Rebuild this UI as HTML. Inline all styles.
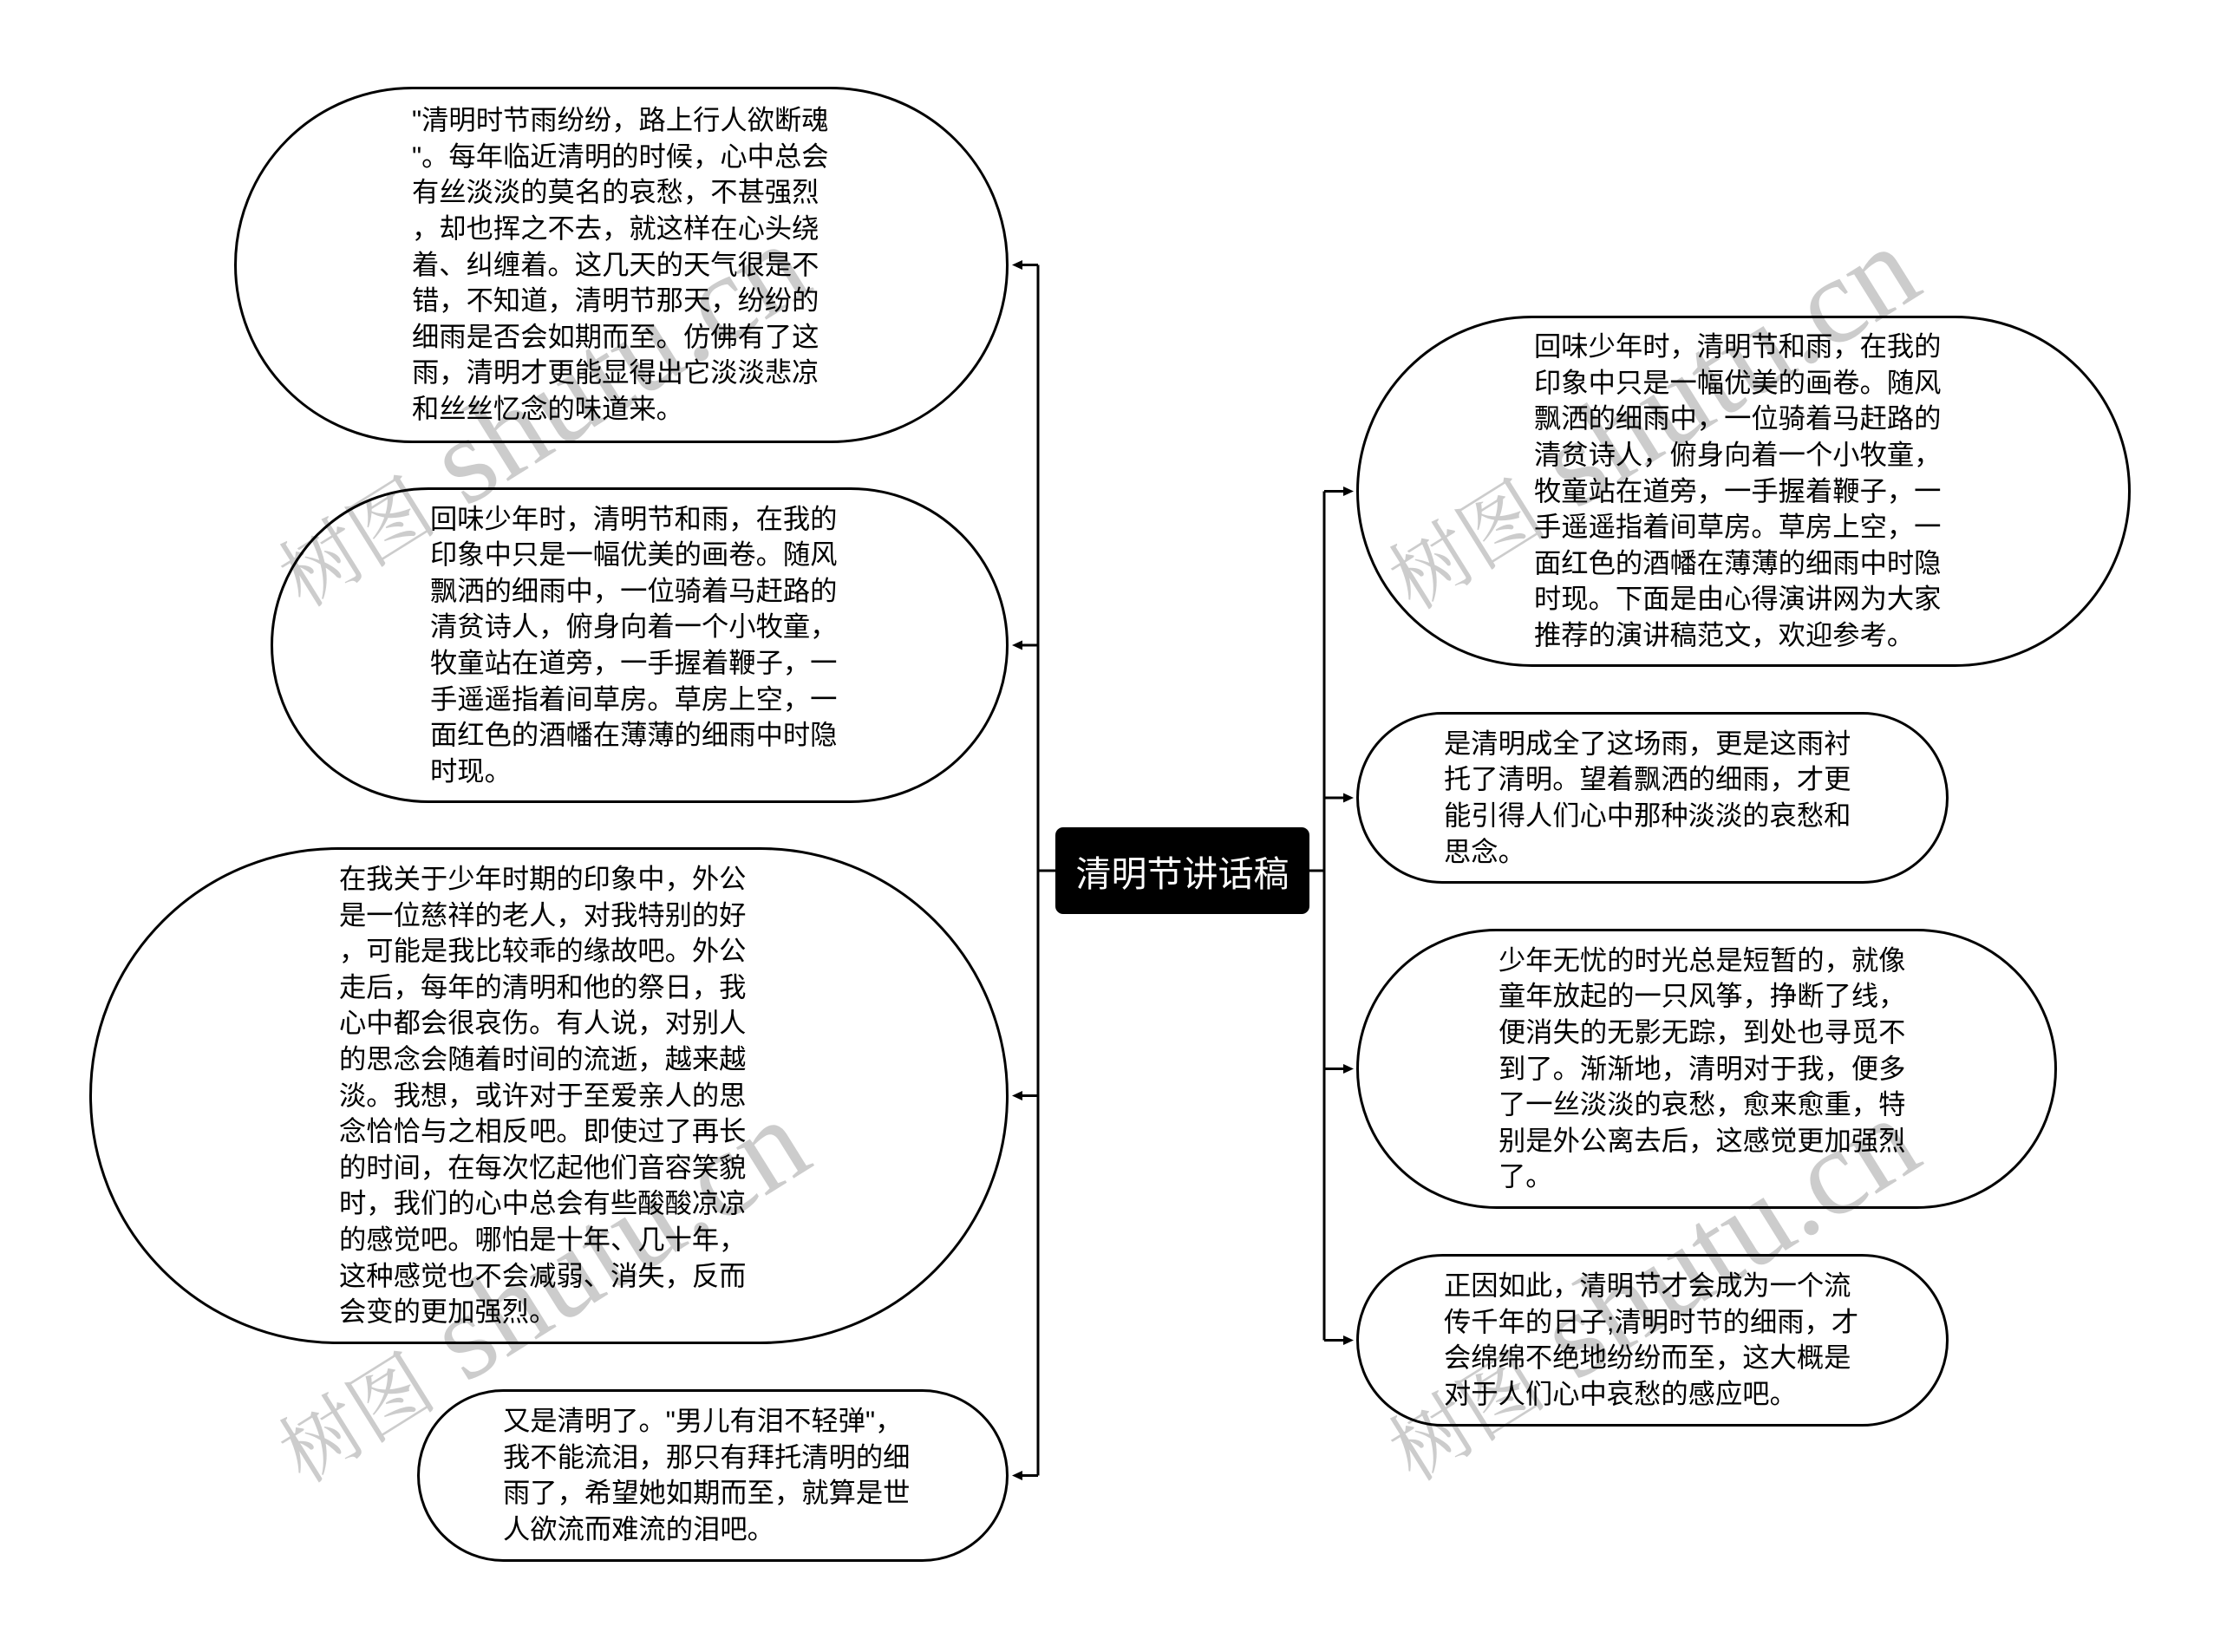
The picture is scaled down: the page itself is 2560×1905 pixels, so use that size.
<!DOCTYPE html>
<html>
<head>
<meta charset="utf-8">
<style>
  html, body { margin:0; padding:0; }
  body { width:2560px; height:1905px; position:relative; overflow:hidden; background:#fff; }
  .t { position:absolute; font-family:"Liberation Sans","Noto Sans CJK SC",sans-serif; font-size:31.3px; line-height:41.6px; color:#000; white-space:nowrap; }
  .center { position:absolute; left:1217px; top:954px; width:293px; height:100px; display:flex; align-items:center; justify-content:center; font-family:"Liberation Sans","Noto Sans CJK SC",sans-serif; font-size:41px; color:#fff; white-space:nowrap; }
  svg { position:absolute; left:0; top:0; }
</style>
</head>
<body>
<svg width="2560" height="1905" viewBox="0 0 2560 1905">
  <g stroke="#000" stroke-width="3" fill="none">
    <path d="M1197 305.5 V1701.5"/>
    <path d="M1197 305.5 H1177"/>
    <path d="M1197 744 H1177"/>
    <path d="M1197 1263.5 H1177"/>
    <path d="M1197 1701.5 H1177"/>
    <path d="M1197 1004 H1217"/>
    <path d="M1510 1004 H1527"/>
    <path d="M1527 566.5 V1545.5"/>
    <path d="M1527 566.5 H1551"/>
    <path d="M1527 920 H1551"/>
    <path d="M1527 1232.5 H1551"/>
    <path d="M1527 1545.5 H1551"/>
  </g>
  <g fill="#000">
    <polygon points="1167,305.5 1179,300 1179,311"/>
    <polygon points="1167,744 1179,738.5 1179,749.5"/>
    <polygon points="1167,1263.5 1179,1258 1179,1269"/>
    <polygon points="1167,1701.5 1179,1696 1179,1707"/>
    <polygon points="1561,566.5 1549,561 1549,572"/>
    <polygon points="1561,920 1549,914.5 1549,925.5"/>
    <polygon points="1561,1232.5 1549,1227 1549,1238"/>
    <polygon points="1561,1545.5 1549,1540 1549,1551"/>
  </g>
  <g fill="#fff" stroke="#000" stroke-width="3">
    <rect x="271.5" y="101.5" width="890" height="408" rx="204" ry="204"/>
    <rect x="313.5" y="563.5" width="848" height="361" rx="180.5" ry="180.5"/>
    <rect x="104.5" y="978.5" width="1057" height="570" rx="285" ry="285"/>
    <rect x="482.5" y="1603.5" width="679" height="196" rx="98" ry="98"/>
    <rect x="1565.5" y="365.5" width="890" height="402" rx="201" ry="201"/>
    <rect x="1565.5" y="822.5" width="680" height="195" rx="97.5" ry="97.5"/>
    <rect x="1565.5" y="1072.5" width="805" height="320" rx="160" ry="160"/>
    <rect x="1565.5" y="1447.5" width="680" height="196" rx="98" ry="98"/>
  </g>
  <rect x="1217" y="954" width="293" height="100" rx="9" ry="9" fill="#000"/>
</svg>

<div class="center">清明节讲话稿</div>

<div class="t" style="left:475px;top:118.3px;">"清明时节雨纷纷，路上行人欲断魂<br>"。每年临近清明的时候，心中总会<br>有丝淡淡的莫名的哀愁，不甚强烈<br>，却也挥之不去，就这样在心头绕<br>着、纠缠着。这几天的天气很是不<br>错，不知道，清明节那天，纷纷的<br>细雨是否会如期而至。仿佛有了这<br>雨，清明才更能显得出它淡淡悲凉<br>和丝丝忆念的味道来。</div>

<div class="t" style="left:496px;top:577.6px;">回味少年时，清明节和雨，在我的<br>印象中只是一幅优美的画卷。随风<br>飘洒的细雨中，一位骑着马赶路的<br>清贫诗人，俯身向着一个小牧童，<br>牧童站在道旁，一手握着鞭子，一<br>手遥遥指着间草房。草房上空，一<br>面红色的酒幡在薄薄的细雨中时隐<br>时现。</div>

<div class="t" style="left:391px;top:993.1px;">在我关于少年时期的印象中，外公<br>是一位慈祥的老人，对我特别的好<br>，可能是我比较乖的缘故吧。外公<br>走后，每年的清明和他的祭日，我<br>心中都会很哀伤。有人说，对别人<br>的思念会随着时间的流逝，越来越<br>淡。我想，或许对于至爱亲人的思<br>念恰恰与之相反吧。即使过了再长<br>的时间，在每次忆起他们音容笑貌<br>时，我们的心中总会有些酸酸凉凉<br>的感觉吧。哪怕是十年、几十年，<br>这种感觉也不会减弱、消失，反而<br>会变的更加强烈。</div>

<div class="t" style="left:580px;top:1618.3px;">又是清明了。"男儿有泪不轻弹"，<br>我不能流泪，那只有拜托清明的细<br>雨了，希望她如期而至，就算是世<br>人欲流而难流的泪吧。</div>

<div class="t" style="left:1769px;top:379.3px;">回味少年时，清明节和雨，在我的<br>印象中只是一幅优美的画卷。随风<br>飘洒的细雨中，一位骑着马赶路的<br>清贫诗人，俯身向着一个小牧童，<br>牧童站在道旁，一手握着鞭子，一<br>手遥遥指着间草房。草房上空，一<br>面红色的酒幡在薄薄的细雨中时隐<br>时现。下面是由心得演讲网为大家<br>推荐的演讲稿范文，欢迎参考。</div>

<div class="t" style="left:1665px;top:836.8px;">是清明成全了这场雨，更是这雨衬<br>托了清明。望着飘洒的细雨，才更<br>能引得人们心中那种淡淡的哀愁和<br>思念。</div>

<div class="t" style="left:1728px;top:1086.9px;">少年无忧的时光总是短暂的，就像<br>童年放起的一只风筝，挣断了线，<br>便消失的无影无踪，到处也寻觅不<br>到了。渐渐地，清明对于我，便多<br>了一丝淡淡的哀愁，愈来愈重，特<br>别是外公离去后，这感觉更加强烈<br>了。</div>

<div class="t" style="left:1665px;top:1462.3px;">正因如此，清明节才会成为一个流<br>传千年的日子;清明时节的细雨，才<br>会绵绵不绝地纷纷而至，这大概是<br>对于人们心中哀愁的感应吧。</div>

<svg width="2560" height="1905" viewBox="0 0 2560 1905" style="pointer-events:none;">
  <g fill="#000" fill-opacity="0.2">
    <text transform="translate(350,702) rotate(-32)"><tspan font-family="Noto Serif CJK SC, serif" font-size="92">树图</tspan><tspan font-family="Liberation Serif, serif" font-size="142"> shutu.cn</tspan></text>
    <text transform="translate(350,1712) rotate(-32)"><tspan font-family="Noto Serif CJK SC, serif" font-size="92">树图</tspan><tspan font-family="Liberation Serif, serif" font-size="142"> shutu.cn</tspan></text>
    <text transform="translate(1630,705) rotate(-32)"><tspan font-family="Noto Serif CJK SC, serif" font-size="92">树图</tspan><tspan font-family="Liberation Serif, serif" font-size="142"> shutu.cn</tspan></text>
    <text transform="translate(1630,1710) rotate(-32)"><tspan font-family="Noto Serif CJK SC, serif" font-size="92">树图</tspan><tspan font-family="Liberation Serif, serif" font-size="142"> shutu.cn</tspan></text>
  </g>
</svg>
</body>
</html>
